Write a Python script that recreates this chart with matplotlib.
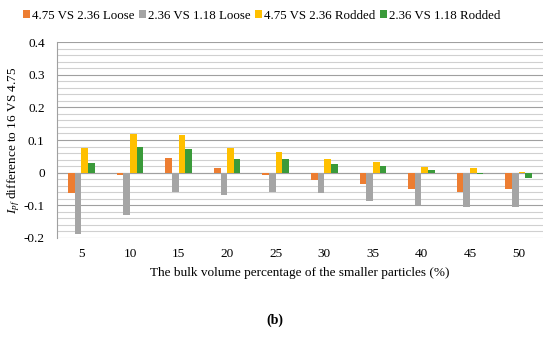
import matplotlib
matplotlib.use("Agg")
import matplotlib.pyplot as plt
import numpy as np
from matplotlib.ticker import MultipleLocator

plt.rcParams['font.family'] = ['Liberation Serif', 'DejaVu Serif']
plt.rcParams['mathtext.fontset'] = 'custom'
plt.rcParams['mathtext.rm'] = 'Liberation Serif'
plt.rcParams['mathtext.it'] = 'Liberation Serif:italic'

categories = ['5', '10', '15', '20', '25', '30', '35', '40', '45', '50']
series_names = ['4.75 VS 2.36 Loose', '2.36 VS 1.18 Loose', '4.75 VS 2.36 Rodded', '2.36 VS 1.18 Rodded']
loose_475 = [-0.062, -0.008, 0.044, 0.013, -0.007, -0.021, -0.034, -0.049, -0.060, -0.051]
loose_236 = [-0.187, -0.131, -0.060, -0.069, -0.059, -0.063, -0.088, -0.098, -0.106, -0.105]
rodded_475 = [0.077, 0.119, 0.115, 0.076, 0.063, 0.041, 0.033, 0.017, 0.014, 0.001]
rodded_236 = [0.031, 0.078, 0.073, 0.041, 0.041, 0.026, 0.019, 0.007, -0.004, -0.017]
colors = ['#ED7D31', '#A5A5A5', '#FFC000', '#3A9A3A']

fig = plt.figure(figsize=(5.5, 3.37), dpi=100)
ax = fig.add_axes([0.104, 0.294, 0.883, 0.581])

x = np.arange(len(categories))
w = 0.137
data = [loose_475, loose_236, rodded_475, rodded_236]
for i, (vals, c, name) in enumerate(zip(data, colors, series_names)):
    ax.bar(x + (i - 1.5) * w, vals, w, color=c, label=name, zorder=3)

ax.set_xlim(-0.5, len(categories) - 0.5)
ax.set_ylim(-0.2, 0.4)
ax.yaxis.set_major_locator(MultipleLocator(0.1))
ax.yaxis.set_minor_locator(MultipleLocator(0.02))
ax.grid(True, which='major', axis='y', color='#A0A0A0', lw=0.8, zorder=0)
ax.grid(True, which='minor', axis='y', color='#D0D0D0', lw=0.8, zorder=0)
ax.axhline(0, color='#A0A0A0', lw=0.8, zorder=2)
ax.set_xticks(x)
ax.set_xticklabels(categories)
ax.set_yticks([-0.2, -0.1, 0, 0.1, 0.2, 0.3, 0.4])
ax.set_yticklabels(['-0.2', '-0.1', '0', '0.1', '0.2', '0.3', '0.4'])
ax.tick_params(axis='both', which='both', length=0, labelsize=9.5, colors='black')
ax.tick_params(axis='x', pad=7)
ax.tick_params(axis='y', pad=9)
for s in ['top', 'right', 'bottom']:
    ax.spines[s].set_visible(False)
ax.spines['left'].set_color('#A0A0A0')
ax.spines['left'].set_linewidth(0.8)

ax.set_xlabel('The bulk volume percentage of the smaller particles (%)', fontsize=9.5, labelpad=5)
ax.set_ylabel(r'$I_{pf}$ difference to 16 VS 4.75', fontsize=9.5, labelpad=1)

fig.legend(loc='upper center', bbox_to_anchor=(0.475, 1.005), ncol=4, frameon=False,
           fontsize=9.3, handlelength=0.55, handleheight=0.55, handletextpad=0.15,
           columnspacing=0.35)
fig.text(0.5, 0.05, '(b)', ha='center', va='center', fontsize=10, fontweight='bold')

fig.savefig('out.png', dpi=100)
